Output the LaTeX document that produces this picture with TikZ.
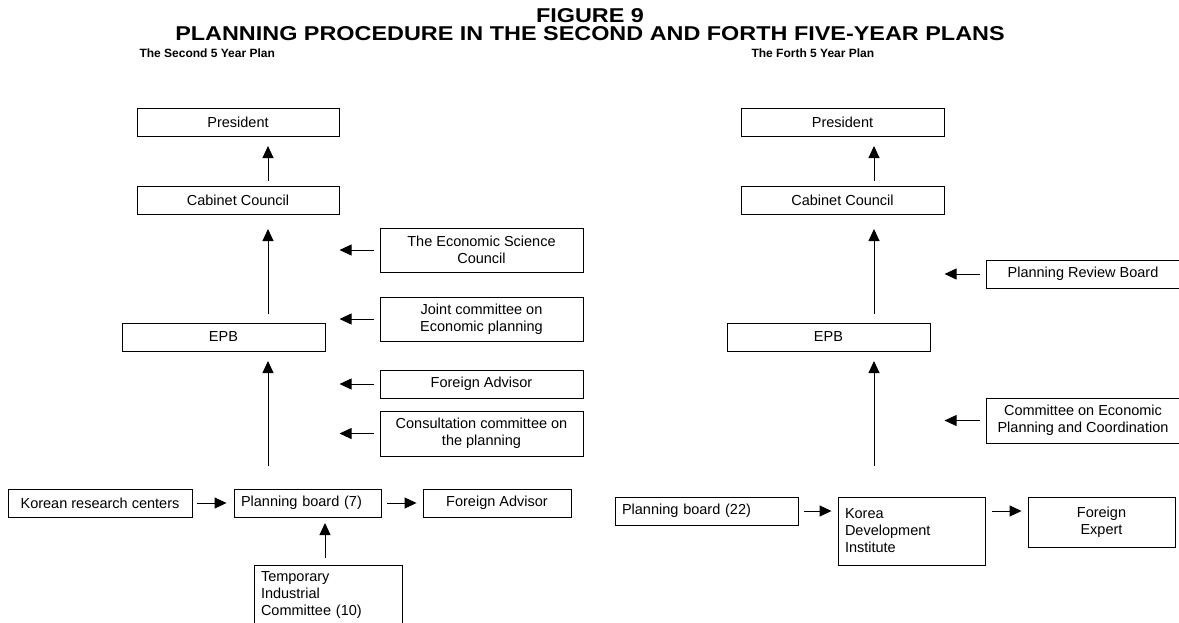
\documentclass[tikz,border=0pt]{standalone}
\usepackage{fontspec}
\usepackage{graphicx}
\setmainfont{Liberation Sans}
\usetikzlibrary{arrows.meta}
\newcommand{\widetitle}[1]{\scalebox{1.17}[1]{#1}}
\begin{document}
\begin{tikzpicture}[x=1pt,y=-1pt,
  box/.style={draw, line width=0.9pt, inner sep=0pt, align=center,
    font=\fontsize{14.5}{17}\selectfont},
  lbox/.style={box, align=left, inner xsep=7pt},
  arr/.style={line width=0.9pt, -{Triangle[length=12pt,width=11pt]}},
  ttl/.style={font=\bfseries\fontsize{20}{24}\selectfont, anchor=base, inner sep=0pt},
  sub/.style={font=\bfseries\fontsize{12}{15}\selectfont, anchor=base west},
]
\useasboundingbox (0,0) rectangle (1179,622);

% headings
\node[ttl] (fig) at (590,22) {\widetitle{FIGURE 9}};
\node[ttl] (title) at (590,40) {\widetitle{PLANNING PROCEDURE IN THE SECOND AND FORTH FIVE-YEAR PLANS}};
\node[sub] (subA) at (136,57) {The Second 5 Year Plan};
\node[sub] (subB) at (748,57) {The Forth 5 Year Plan};

% ---------------- second plan ----------------
\node[box, minimum width=202, minimum height=28] (presA) at (238,122) {President};
\node[box, minimum width=202, minimum height=28] (cabA) at (238,200) {Cabinet Council};
\node[box, minimum width=203, minimum height=28] (epbA) at (223.5,337) {EPB};

\node[box, minimum width=203, minimum height=44] (esc) at (481.5,250) {The Economic Science\\Council};
\node[box, minimum width=203, minimum height=44] (joint) at (481.5,319) {Joint committee on\\Economic planning};
\node[box, minimum width=203, minimum height=28] (advA) at (481.5,384) {Foreign Advisor};
\node[box, minimum width=203, minimum height=45] (cons) at (481.5,433.5) {Consultation committee on\\the planning};

\node[box, minimum width=184, minimum height=28] (krc) at (100,503) {Korean research centers};
\node[lbox, minimum width=147, minimum height=28, text width=133] (pbA) at (307.5,503) {Planning board (7)};
\node[box, minimum width=148, minimum height=28] (advB) at (497,503) {Foreign Advisor};
\node[lbox, minimum width=148, minimum height=60, text width=134] (tic) at (328,595) {Temporary\\Industrial\\Committee (10)};

% arrows, second plan
\coordinate (a1s) at (268,181); \coordinate (a1e) at (268,146);
\coordinate (a2s) at (268,314); \coordinate (a2e) at (268,229);
\coordinate (a3s) at (268,466); \coordinate (a3e) at (268,361);
\coordinate (a4s) at (325,558); \coordinate (a4e) at (325,523);
\draw[arr] (a1s) -- (a1e);
\draw[arr] (a2s) -- (a2e);
\draw[arr] (a3s) -- (a3e);
\draw[arr] (a4s) -- (a4e);
\draw[arr] ([xshift=-6pt]esc.west) -- ([xshift=-40pt]esc.west);
\draw[arr] ([xshift=-6pt]joint.west) -- ([xshift=-40pt]joint.west);
\draw[arr] ([xshift=-6pt]advA.west) -- ([xshift=-40pt]advA.west);
\draw[arr] ([xshift=-6pt]cons.west) -- ([xshift=-40pt]cons.west);
\draw[arr] ([xshift=5pt]krc.east) -- ([xshift=-7pt]pbA.west);
\draw[arr] ([xshift=6pt]pbA.east) -- ([xshift=-6pt]advB.west);

% ---------------- fourth plan ----------------
\node[box, minimum width=203, minimum height=28] (presB) at (842.5,122) {President};
\node[box, minimum width=203, minimum height=28] (cabB) at (842.5,200) {Cabinet Council};
\node[box, minimum width=203, minimum height=28] (epbB) at (828.5,337) {EPB};
\node[box, minimum width=194, minimum height=28] (prb) at (1083,274) {Planning Review Board};
\node[box, minimum width=194, minimum height=45] (cepc) at (1083,420.5) {Committee on Economic\\Planning and Coordination};

\node[lbox, minimum width=183, minimum height=28, text width=169] (pbB) at (706.5,511) {Planning board (22)};
\node[lbox, minimum width=147, minimum height=68, text width=133] (kdi) at (911.5,531) {Korea\\Development\\Institute};
\node[box, minimum width=147, minimum height=50] (fexp) at (1101.5,522) {Foreign\\Expert};

% arrows, fourth plan
\coordinate (b1s) at (874,181); \coordinate (b1e) at (874,146);
\coordinate (b2s) at (874,314); \coordinate (b2e) at (874,229);
\coordinate (b3s) at (874,466); \coordinate (b3e) at (874,361);
\draw[arr] (b1s) -- (b1e);
\draw[arr] (b2s) -- (b2e);
\draw[arr] (b3s) -- (b3e);
\draw[arr] ([xshift=-6pt]prb.west) -- ([xshift=-41pt]prb.west);
\draw[arr] ([xshift=-6pt]cepc.west) -- ([xshift=-41pt]cepc.west);
\draw[arr] ([xshift=6pt]pbB.east) -- ([xshift=-6pt]kdi.west |- pbB.east);
\draw[arr] ([xshift=7pt]kdi.east |- pbB.east) -- ([xshift=-6pt]fexp.west |- pbB.east);
\end{tikzpicture}
\end{document}
